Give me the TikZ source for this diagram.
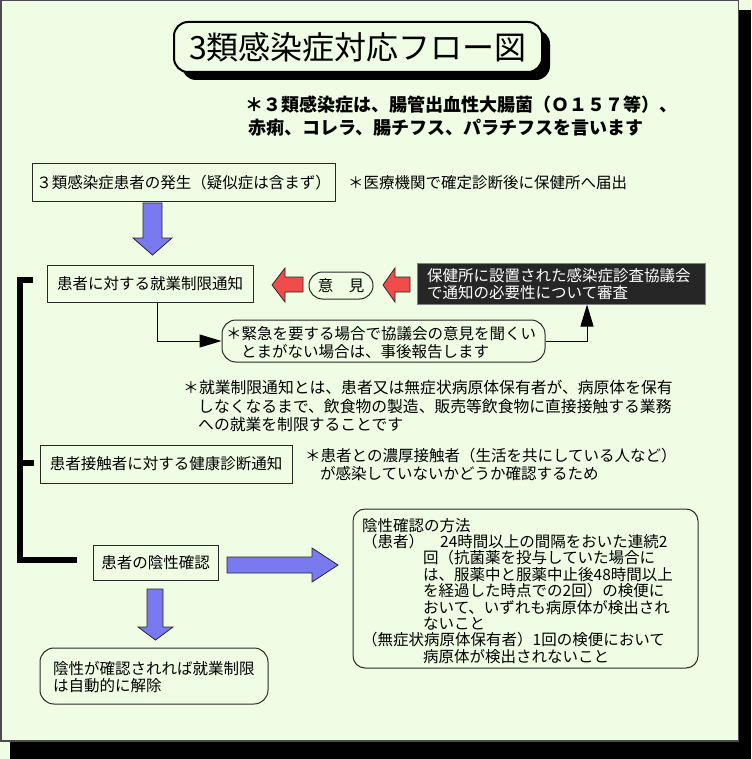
\documentclass[tikz,border=0pt]{standalone}
\usepackage{fontspec}
\setmainfont{Noto Sans CJK JP}
\usetikzlibrary{arrows.meta,shadows}
\definecolor{bg}{RGB}{239,253,229}
\definecolor{linec}{RGB}{40,40,40}
\definecolor{barrow}{RGB}{122,122,240}
\definecolor{rarrow}{RGB}{240,76,76}
\definecolor{darkbox}{RGB}{38,38,38}
\newcommand\jfs{\fontsize{15.5}{18}\selectfont}
\begin{document}
\begin{tikzpicture}[x=1pt,y=-1pt,
  box/.style={draw=linec, line width=1pt, fill=bg, inner sep=0pt, font=\jfs},
  rbox/.style={box, rounded corners=14pt},
  txt/.style={anchor=base west, inner sep=0pt, font=\jfs},
  conn/.style={draw=black, line width=1pt, -{Triangle[length=22pt,width=13pt]}},
  barr/.style={fill=barrow, draw=linec, line width=0.8pt},
  rarr/.style={fill=rarrow, draw=linec, line width=0.8pt},
  brk/.style={line width=6pt, line cap=butt, line join=miter}
]
\useasboundingbox (0,0) rectangle (751,759);
\fill[bg] (0,0) rectangle (751,759);
\fill[black] (10,10) rectangle (751,759);
\filldraw[fill=bg, draw=black!70, line width=1.5pt] (0.75,0.75) rectangle (738.5,741);

% title
\node[draw=black, line width=2pt, fill=bg, rounded corners=14pt, minimum width=368pt, minimum height=50pt, inner sep=0pt,
  font=\fontsize{32}{36}\selectfont,
  drop shadow={shadow xshift=8pt, shadow yshift=-8pt, fill=black, opacity=1}] (title) at (358,47) {3類感染症対応フロー図};

% top note
\node[txt, font=\fontsize{18}{20}\selectfont\bfseries] (n1) at (245,112) {＊３類感染症は、腸管出血性大腸菌（Ｏ１５７等）、};
\node[txt, font=\fontsize{18}{20}\selectfont\bfseries] (n2) at (248,135) {赤痢、コレラ、腸チフス、パラチフスを言います};

% boxes
\node[box, minimum width=303pt, minimum height=38pt] (b1) at (183.5,183) {３類感染症患者の発生（疑似症は含まず）};
\node[txt] (b1n) at (348,189) {＊医療機関で確定診断後に保健所へ届出};

\node[box, minimum width=206pt, minimum height=37pt] (b2) at (150,283.5) {患者に対する就業制限通知};

\node[box, rounded corners=13.5pt, minimum width=64pt, minimum height=27pt] (op) at (341,285.5) {意　見};

\node[draw={rgb,255:red,130;green,130;blue,130}, line width=1pt, fill=darkbox, minimum width=288pt, minimum height=41pt, inner sep=0pt] (dk) at (561,283.5) {};
\node[txt, text=white] (dk1) at (427,281) {保健所に設置された感染症診査協議会};
\node[txt, text=white] (dk2) at (427,298) {で通知の必要性について審査};

\node[rbox, minimum width=323pt, minimum height=42pt] (bub) at (383.5,341) {};
\node[txt] (bub1) at (226,339) {＊緊急を要する場合で協議会の意見を聞くい};
\node[txt] (bub2) at (241,357) {とまがない場合は、事後報告します};

\node[txt, font=\fontsize{15.8}{18}\selectfont] (def1) at (183,393) {＊就業制限通知とは、患者又は無症状病原体保有者が、病原体を保有};
\node[txt, font=\fontsize{15.8}{18}\selectfont] (def2) at (198,412) {しなくなるまで、飲食物の製造、販売等飲食物に直接接触する業務};
\node[txt, font=\fontsize{15.8}{18}\selectfont] (def3) at (198,430) {への就業を制限することです};

\node[box, minimum width=252pt, minimum height=38pt] (b3) at (166,464) {患者接触者に対する健康診断通知};
\node[txt] (b3n1) at (305,461) {＊患者との濃厚接触者（生活を共にしている人など）};
\node[txt] (b3n2) at (320,479) {が感染していないかどうか確認するため};

\node[box, minimum width=125pt, minimum height=35pt] (b4) at (155.5,563) {患者の陰性確認};

\node[rbox, minimum width=228pt, minimum height=56pt] (b5) at (154,676) {};
\node[txt] (b51) at (53,674) {陰性が確認されれば就業制限};
\node[txt] (b52) at (53,691) {は自動的に解除};

\node[rbox, rounded corners=12pt, minimum width=345pt, minimum height=159pt] (b6) at (525.5,588.5) {};
\node[txt] (m1) at (362,531) {陰性確認の方法};
\node[txt] (m2) at (362,547.4) {（患者）\hspace{16pt}24時間以上の間隔をおいた連続2};
\node[txt] (m3) at (423,563.8) {回（抗菌薬を投与していた場合に};
\node[txt] (m4) at (423,580.2) {は、服薬中と服薬中止後48時間以上};
\node[txt] (m5) at (423,596.6) {を経過した時点での2回）の検便に};
\node[txt] (m6) at (423,613) {おいて、いずれも病原体が検出され};
\node[txt] (m7) at (423,629.4) {ないこと};
\node[txt] (m8) at (362,645.8) {（無症状病原体保有者）1回の検便において};
\node[txt] (m9) at (423,662.2) {病原体が検出されないこと};

% block arrows
\filldraw[barr] (143,203) -- (162,203) -- (162,238) -- (172,238) -- (152.5,255) -- (133,238) -- (143,238) -- cycle;
\filldraw[barr] (147,589) -- (163,589) -- (163,627) -- (173,627) -- (155.5,640) -- (138,627) -- (147,627) -- cycle;
\filldraw[barr] (227,557) -- (312,557) -- (312,548) -- (338,565) -- (312,582) -- (312,573) -- (227,573) -- cycle;
\filldraw[rarr] (303,277) -- (285,277) -- (285,268) -- (272,285) -- (285,302) -- (285,292) -- (303,292) -- cycle;
\filldraw[rarr] (410,277) -- (395,277) -- (395,268) -- (383,285) -- (395,302) -- (395,292) -- (410,292) -- cycle;

% connectors
\draw[conn] ([xshift=7pt]b2.south) |- (bub.west);
\draw[conn] (bub.east) -| ([xshift=26pt]dk.south);

% bracket
\draw[brk] (33,280) -| (20,560) -- (77,560);
\draw[brk] (20,463) -- (34,463);
\end{tikzpicture}
\end{document}
